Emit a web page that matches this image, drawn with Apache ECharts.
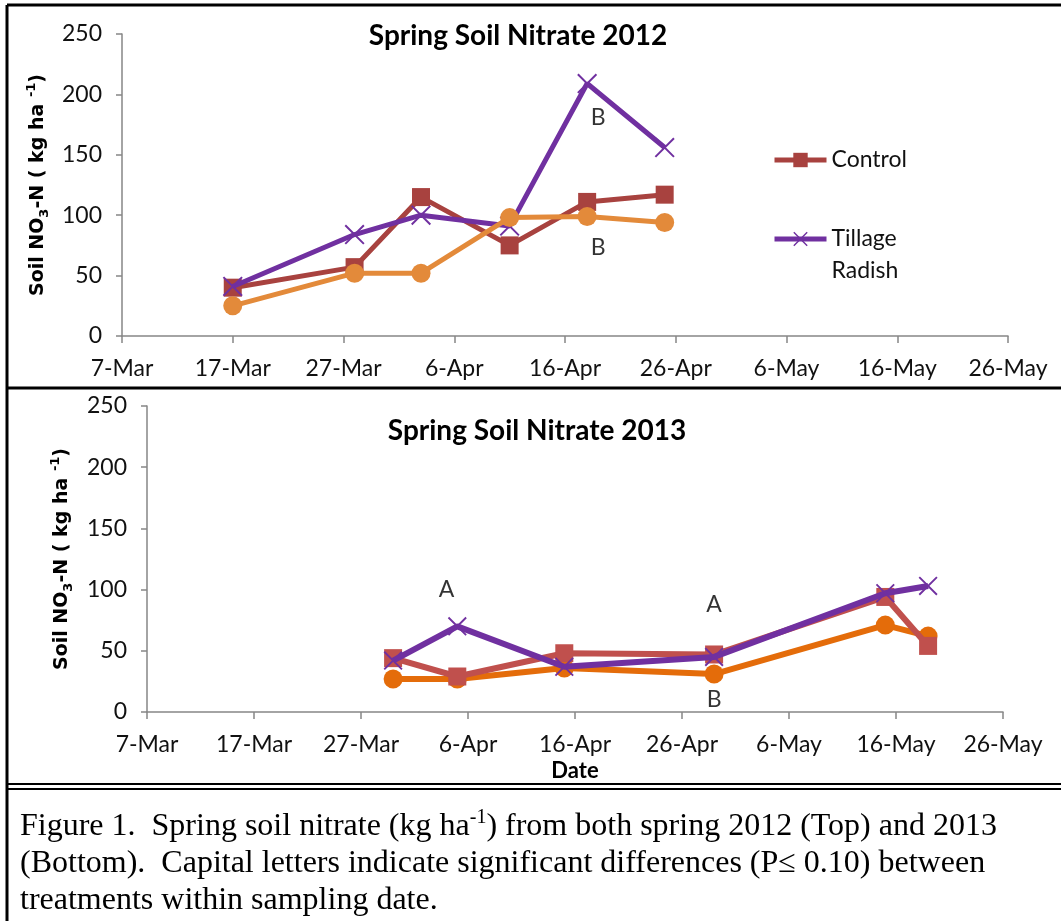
<!DOCTYPE html>
<html>
<head>
<meta charset="utf-8">
<script src="https://cdn.jsdelivr.net/npm/echarts@6/dist/echarts.min.js"></script>
<style>
  html, body { margin: 0; padding: 0; background: #fff; }
  #chart { width: 1061px; height: 921px; }
</style>
</head>
<body>
<div id="chart"></div>
<script>
// tick labels on the date axis (every 10 days from 7-Mar)
var tickLabels = ['7-Mar', '17-Mar', '27-Mar', '6-Apr', '16-Apr', '26-Apr', '6-May', '16-May', '26-May'];

// 2012 sampling
var dates2012 = ['17-Mar', '28-Mar', '3-Apr', '11-Apr', '18-Apr', '25-Apr'];
var control2012 = [40, 57, 115, 75, 111, 117];
var tillage2012 = [41, 84, 100, 91, 209, 156];
var other2012 = [25, 52, 52, 98, 99, 94];
var letters2012 = [['19-Apr', 181, 'B'], ['19-Apr', 73, 'B']];

// 2013 sampling
var dates2013 = ['30-Mar', '5-Apr', '15-Apr', '29-Apr', '15-May', '19-May'];
var control2013 = [44, 29, 48, 47, 94, 54];
var tillage2013 = [42, 70, 37, 45, 97, 103];
var other2013 = [27, 27, 36, 31, 71, 62];
var letters2013 = [['4-Apr', 100, 'A'], ['29-Apr', 88, 'A'], ['29-Apr', 10, 'B']];

// days since 7-Mar
function dayOf(s) {
    var p = s.split('-');
    var d = parseInt(p[0], 10);
    if (p[1] == 'Mar') return d - 7;
    if (p[1] == 'Apr') return d + 24;
    return d + 54;
}

function pairs(dates, vals) {
    var out = [];
    for (var i = 0; i < dates.length; i++) {
        out.push([dayOf(dates[i]), vals[i]]);
    }
    return out;
}

function letterData(list) {
    return list.map(function (l) { return [dayOf(l[0]), l[1], l[2]]; });
}

var xSymbol = 'path://M0,0.7 L0.7,0 L10,9.3 L9.3,10 Z M9.3,0 L10,0.7 L0.7,10 L0,9.3 Z';
var axisGray = '#868686';
var labelFont = 'Lato, "Open Sans", sans-serif';

function xAxisCfg(gridIndex, withName) {
    var ax = {
        type: 'value',
        gridIndex: gridIndex,
        min: 0,
        max: 80,
        interval: 10,
        splitLine: {show: false},
        axisLine: {lineStyle: {color: axisGray, width: 1.5}},
        axisTick: {length: 7, lineStyle: {color: axisGray, width: 1.5}},
        axisLabel: {
            margin: 21,
            color: '#111',
            fontSize: 23,
            fontFamily: labelFont,
            formatter: function (v) { return tickLabels[Math.round(v / 10)]; }
        }
    };
    if (withName) {
        ax.name = 'Date';
        ax.nameLocation = 'middle';
        ax.nameGap = 48;
        ax.nameTextStyle = {fontSize: 22, fontWeight: 'bold', color: '#000', fontFamily: labelFont};
    }
    return ax;
}

function yAxisCfg(gridIndex, gap) {
    return {
        type: 'value',
        gridIndex: gridIndex,
        min: 0,
        max: 250,
        interval: 50,
        splitLine: {show: false},
        axisLine: {show: true, lineStyle: {color: axisGray, width: 1.5}},
        axisTick: {show: true, length: 6, lineStyle: {color: axisGray, width: 1.5}},
        axisLabel: {margin: 20, color: '#111', fontSize: 23, fontFamily: labelFont},
        name: '{b|Soil NO}{sub|3}{b|-N ( kg ha }{sup|-1}{b|)}',
        nameLocation: 'middle',
        nameRotate: 90,
        nameGap: gap,
        nameTextStyle: {
            rich: {
                b: {fontSize: 19, fontWeight: 'bold', fontFamily: '"DejaVu Sans"', color: '#000', lineHeight: 26, verticalAlign: 'middle'},
                sub: {fontSize: 13, fontWeight: 'bold', fontFamily: '"DejaVu Sans"', color: '#000', lineHeight: 26, verticalAlign: 'bottom'},
                sup: {fontSize: 13, fontWeight: 'bold', fontFamily: '"DejaVu Sans"', color: '#000', lineHeight: 26, verticalAlign: 'top'}
            }
        }
    };
}

function lineSeries(name, idx, data, color, symbol, size, width, z) {
    return {
        name: name,
        type: 'line',
        xAxisIndex: idx,
        yAxisIndex: idx,
        data: data,
        symbol: symbol,
        symbolSize: size,
        z: z,
        lineStyle: {color: color, width: width},
        itemStyle: {color: color},
        emphasis: {disabled: true},
        animation: false
    };
}

function letterSeries(idx, data) {
    return {
        type: 'scatter',
        xAxisIndex: idx,
        yAxisIndex: idx,
        data: data,
        symbolSize: 0,
        z: 10,
        label: {
            show: true,
            position: 'inside',
            fontSize: 23,
            fontFamily: labelFont,
            color: '#000',
            formatter: function (p) { return p.data[2]; }
        },
        animation: false
    };
}

var myChart = echarts.init(document.getElementById('chart'));

var option = {
    backgroundColor: '#fff',
    animation: false,
    grid: [
        {left: 122, right: 53, top: 34, height: 302},
        {left: 147, right: 58, top: 406, height: 306}
    ],
    legend: {
        data: ['Control', 'Tillage Radish'],
        orient: 'vertical',
        left: 767,
        top: 139,
        itemWidth: 52,
        itemHeight: 18,
        itemGap: 15,
        selectedMode: false,
        lineStyle: {width: 5},
        formatter: function (name) {
            return name == 'Tillage Radish' ? '\nTillage\nRadish' : name;
        },
        textStyle: {fontSize: 23, fontFamily: labelFont, color: '#111', lineHeight: 32}
    },
    xAxis: [xAxisCfg(0, false), xAxisCfg(1, true)],
    yAxis: [yAxisCfg(0, 70), yAxisCfg(1, 72)],
    series: [
        lineSeries('Control', 0, pairs(dates2012, control2012), '#a8423f', 'rect', 18, 5, 2),
        lineSeries('Tillage Radish', 0, pairs(dates2012, tillage2012), '#7030a0', xSymbol, 20, 5, 3),
        lineSeries('Series 3', 0, pairs(dates2012, other2012), '#e38a3a', 'circle', 19, 5, 4),
        letterSeries(0, letterData(letters2012)),
        lineSeries('Series 3 2013', 1, pairs(dates2013, other2013), '#e46c0a', 'circle', 19, 6, 2),
        lineSeries('Control 2013', 1, pairs(dates2013, control2013), '#c0504d', 'rect', 18, 6, 3),
        lineSeries('Tillage Radish 2013', 1, pairs(dates2013, tillage2013), '#7030a0', xSymbol, 19, 6, 4),
        letterSeries(1, letterData(letters2013))
    ],
    graphic: [
        // frame lines
        {type: 'line', shape: {x1: 7, y1: 5, x2: 1061, y2: 5}, style: {stroke: '#000', lineWidth: 3}},
        {type: 'line', shape: {x1: 7, y1: 5, x2: 7, y2: 921}, style: {stroke: '#000', lineWidth: 3}},
        {type: 'line', shape: {x1: 7, y1: 388, x2: 1061, y2: 388}, style: {stroke: '#000', lineWidth: 3}},
        {type: 'line', shape: {x1: 7, y1: 784, x2: 1061, y2: 784}, style: {stroke: '#000', lineWidth: 2}},
        {type: 'line', shape: {x1: 7, y1: 789, x2: 1061, y2: 789}, style: {stroke: '#000', lineWidth: 2}},
        // chart titles
        {type: 'text', x: 518, y: 36, style: {text: 'Spring Soil Nitrate 2012', align: 'center', verticalAlign: 'middle', font: 'bold 28px Lato, sans-serif', fill: '#000'}},
        {type: 'text', x: 537, y: 431, style: {text: 'Spring Soil Nitrate 2013', align: 'center', verticalAlign: 'middle', font: 'bold 28px Lato, sans-serif', fill: '#000'}},
        // caption
        {
            type: 'text', x: 20, y: 808,
            style: {
                text: '{t|Figure 1.  Spring soil nitrate (kg ha}{s|-1}{t|) from both spring 2012 (Top) and 2013}\n' +
                      '{t|(Bottom).  Capital letters indicate significant differences (P≤ 0.10) between}\n' +
                      '{t|treatments within sampling date.}',
                rich: {
                    t: {fontSize: 32, fontFamily: '"Liberation Serif", serif', fill: '#000', lineHeight: 37, verticalAlign: 'middle'},
                    s: {fontSize: 20, fontFamily: '"Liberation Serif", serif', fill: '#000', lineHeight: 37, verticalAlign: 'top'}
                }
            }
        }
    ]
};

myChart.setOption(option);
</script>
</body>
</html>
